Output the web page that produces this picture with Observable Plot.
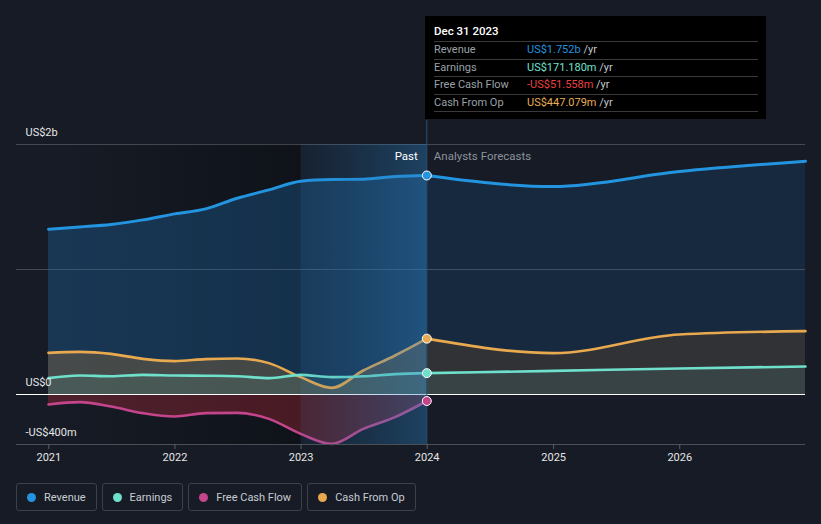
<!DOCTYPE html>
<html>
<head>
<meta charset="utf-8">
<script src="https://cdn.jsdelivr.net/npm/d3@7"></script>
<script src="https://cdn.jsdelivr.net/npm/@observablehq/plot@0.6"></script>
<style>
  html, body { margin: 0; padding: 0; background: #161b25; }
  body { font-family: Roboto, "Noto Sans", sans-serif; }
  #wrap { position: relative; width: 821px; height: 524px; overflow: hidden; }
  #chart svg { display: block; }
  #tip { position: absolute; left: 425px; top: 16px; width: 341px; height: 103px; background: #000; box-sizing: border-box; padding: 0 8px 0 9px; font-size: 11px; }
  #tip .hd { color: #fff; font-weight: 500; font-size: 11.5px; padding-top: 8px; line-height: 14px; height: 17px; }
  #tip .row { border-top: 1px solid #3a3a3a; height: 16.5px; line-height: 16.5px; display: flex; }
  #tip .row:last-child { border-bottom: 1px solid #3a3a3a; }
  #tip .lab { width: 93px; color: #9aa0a8; }
  #tip .yr { color: #c4c8ce; }
  #legend { position: absolute; left: 16px; top: 483px; display: flex; gap: 5px; }
  #legend .item { display: flex; align-items: center; height: 26px; border: 1px solid #3b414b; border-radius: 3px; padding: 0 10px 0 10px; color: #c8ccd2; font-size: 11px; }
  #legend .dot { width: 9px; height: 9px; border-radius: 50%; margin-right: 8px; }
</style>
</head>
<body>
<div id="wrap">
  <div id="chart"></div>
  <div id="tip"></div>
  <div id="legend"></div>
</div>
<script>
// ---- data (US$ millions) ----
const pastDates = ["2020-12-31","2021-03-31","2021-06-30","2021-09-30","2021-12-31","2022-03-31","2022-06-30","2022-09-30","2022-12-31","2023-03-31","2023-06-30","2023-09-30","2023-12-31"];
const pastRevenue  = [1322,1340,1360,1397,1445,1485,1570,1637,1706,1720,1722,1744,1752];
const pastEarnings = [131,152,146,157,152,150,146,131,157,139,146,163,171];
const pastFCF      = [-80,-61,-96,-149,-176,-149,-147,-195,-315,-395,-275,-181,-52];
const pastCFO      = [333,341,325,285,267,283,288,251,139,53,192,312,447];

const forecastDates    = ["2023-12-31","2024-12-31","2025-12-31","2026-12-31"];
const forecastRevenue  = [1752,1664,1784,1866];
const forecastEarnings = [171,189,208,224];
const forecastCFO      = [447,331,480,507];

const xTickYears = ["2021","2022","2023","2024","2025","2026"];
const yLabelValues = [2000, 0, -400];
const yLabelTexts  = ["US$2b", "US$0", "-US$400m"];
const gridValues   = [2000, 1000];

const seriesNames  = ["Revenue","Earnings","Free Cash Flow","Cash From Op"];
const seriesColors = ["#2394df","#6fe0cb","#c4458b","#e8a94f"];
const tipDate = "Dec 31 2023";
const tipValues = ["US$1.752b","US$171.180m","-US$51.558m","US$447.079m"];
const tipColors = ["#2394df","#6fe0cf","#ea4040","#e8ad55"];

// ---- build tables ----
const parse = d3.utcParse("%Y-%m-%d");
const past = pastDates.map((d,i) => ({date: parse(d), revenue: pastRevenue[i], earnings: pastEarnings[i], fcf: pastFCF[i], cfo: pastCFO[i]}));
const fut  = forecastDates.map((d,i) => ({date: parse(d), revenue: forecastRevenue[i], earnings: forecastEarnings[i], cfo: forecastCFO[i]}));
const start = past[0].date, now = past[past.length-1].date, end = fut[fut.length-1].date;
const yearStart = d3.utcParse("%Y")("2023");
const xTicks = xTickYears.map(d3.utcParse("%Y"));
const last = past[past.length-1];

const defs = () => {
  const svg = d3.create("svg:defs");
  const g1 = svg.append("linearGradient").attr("id","gDark").attr("x1","0").attr("x2","1").attr("y1","0").attr("y2","0");
  g1.append("stop").attr("offset","0").attr("stop-color","#000").attr("stop-opacity",0);
  g1.append("stop").attr("offset","0.3").attr("stop-color","#000").attr("stop-opacity",0.08);
  g1.append("stop").attr("offset","1").attr("stop-color","#000").attr("stop-opacity",0.33);
  const g2 = svg.append("linearGradient").attr("id","gHi").attr("x1","0").attr("x2","1").attr("y1","0").attr("y2","0");
  g2.append("stop").attr("offset","0").attr("stop-color","#2070b0").attr("stop-opacity",0.08);
  g2.append("stop").attr("offset","1").attr("stop-color","#2a82c4").attr("stop-opacity",0.38);
  return svg.node();
};

const curve = "monotone-x";
const plot = Plot.plot({
  width: 821,
  height: 475,
  marginLeft: 16,
  marginRight: 16,
  marginTop: 120,
  marginBottom: 31,
  style: {background: "transparent", color: "#e6e6e6", fontSize: "11px", fontFamily: "Roboto, sans-serif"},
  x: {type: "utc", domain: [start, end], range: [48, 805]},
  y: {domain: [-400, 2000], range: [444, 144], axis: null},
  marks: [
    defs,
    // darkened past background
    Plot.rect([{}], {x1: () => start, x2: () => yearStart, y1: () => -400, y2: () => 2000, fill: "url(#gDark)"}),
    // grid
    Plot.ruleY(gridValues, {stroke: "#ffffff", strokeOpacity: 0.2}),
    // areas
    Plot.areaY(past, {x: "date", y: "revenue", fill: "#2178c0", fillOpacity: 0.3, curve}),
    Plot.areaY(fut,  {x: "date", y: "revenue", fill: "#2178c0", fillOpacity: 0.16, curve}),
    Plot.areaY(past, {x: "date", y: "cfo", fill: "#b07a35", fillOpacity: 0.3, curve}),
    Plot.areaY(fut,  {x: "date", y: "cfo", fill: "#9a5a14", fillOpacity: 0.2, curve}),
    Plot.areaY(past, {x: "date", y: "earnings", fill: "#6fe0cb", fillOpacity: 0.1, curve}),
    Plot.areaY(fut,  {x: "date", y: "earnings", fill: "#6fe0cb", fillOpacity: 0.1, curve}),
    Plot.areaY(past, {x: "date", y: "fcf", fill: "#d0303f", fillOpacity: 0.3, curve}),
    // lines
    Plot.lineY(past, {x: "date", y: "revenue", stroke: seriesColors[0], strokeWidth: 3, curve}),
    Plot.lineY(fut,  {x: "date", y: "revenue", stroke: seriesColors[0], strokeWidth: 3, curve}),
    Plot.lineY(past, {x: "date", y: "cfo", stroke: seriesColors[3], strokeWidth: 2.6, curve}),
    Plot.lineY(fut,  {x: "date", y: "cfo", stroke: seriesColors[3], strokeWidth: 2.6, curve}),
    Plot.lineY(past, {x: "date", y: "earnings", stroke: seriesColors[1], strokeWidth: 2.6, curve}),
    Plot.lineY(fut,  {x: "date", y: "earnings", stroke: seriesColors[1], strokeWidth: 2.6, curve}),
    Plot.lineY(past, {x: "date", y: "fcf", stroke: seriesColors[2], strokeWidth: 2.6, curve}),
    // zero & bottom lines
    Plot.ruleY([0], {stroke: "#ffffff", strokeWidth: 1.2}),
    Plot.ruleY([-400], {stroke: "#4a4f58"}),
    // last-year highlight
    Plot.rect([{}], {x1: () => yearStart, x2: () => now, y1: () => -400, y2: () => 2000, fill: "url(#gHi)"}),
    Plot.ruleX([now], {stroke: "#2b5478", strokeWidth: 1}),
    // axis
    Plot.axisX({ticks: xTicks, tickFormat: d3.utcFormat("%Y"), tickSize: 5, tickPadding: 4, stroke: "#5a5f68", color: "#e6e6e6", fontSize: 11}),
    // y labels
    Plot.text(yLabelValues, {y: d => d, text: (d,i) => yLabelTexts[i], frameAnchor: "left", dx: 9, dy: -12, textAnchor: "start", fill: "#e6e6e6", fontSize: 11}),
    // past/forecast labels
    Plot.text([now], {x: d => d, text: ["Past"], frameAnchor: "top", lineAnchor: "middle", dy: 36, dx: -9, textAnchor: "end", fill: "#ffffff", fontSize: 11.5}),
    Plot.text([now], {x: d => d, text: ["Analysts Forecasts"], frameAnchor: "top", lineAnchor: "middle", dy: 36, dx: 7, textAnchor: "start", fill: "#8c929b", fontSize: 11.5}),
    // dots
    Plot.dot([last], {x: "date", y: "revenue", r: 4.5, fill: seriesColors[0], stroke: "#fff", strokeWidth: 1}),
    Plot.dot([last], {x: "date", y: "cfo", r: 4.5, fill: seriesColors[3], stroke: "#fff", strokeWidth: 1}),
    Plot.dot([last], {x: "date", y: "earnings", r: 4.5, fill: seriesColors[1], stroke: "#fff", strokeWidth: 1}),
    Plot.dot([last], {x: "date", y: "fcf", r: 4.5, fill: seriesColors[2], stroke: "#fff", strokeWidth: 1})
  ]
});
document.getElementById("chart").appendChild(plot);

// tooltip
const tip = document.getElementById("tip");
tip.innerHTML = `<div class="hd">${tipDate}</div>` + seriesNames.map((n,i) =>
  `<div class="row"><span class="lab">${n}</span><span style="color:${tipColors[i]}">${tipValues[i]}</span><span class="yr">&nbsp;/yr</span></div>`).join("");

// legend
document.getElementById("legend").innerHTML = seriesNames.map((n,i) =>
  `<div class="item"><span class="dot" style="background:${seriesColors[i]}"></span>${n}</div>`).join("");
</script>
</body>
</html>
